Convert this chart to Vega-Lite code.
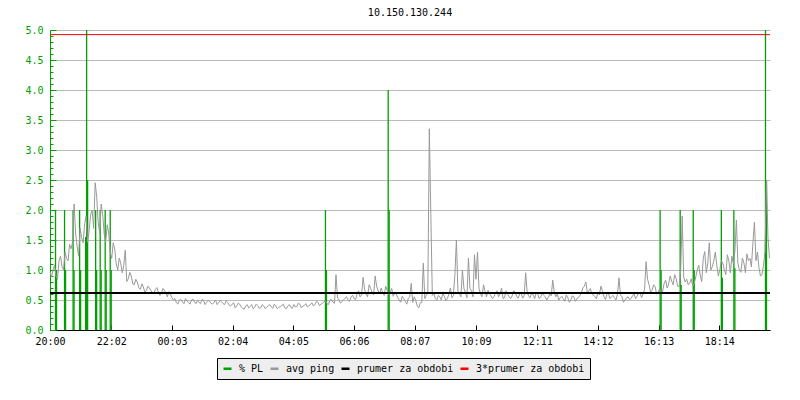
{
  "$schema": "https://vega.github.io/schema/vega-lite/v6.json",
  "width": 720,
  "height": 300,
  "autosize": {"type": "none"},
  "padding": {"left": 50, "top": 30, "right": 30, "bottom": 70},
  "background": "#ffffff",
  "title": {"text": "10.150.130.244", "font": "DejaVu Sans Mono", "fontSize": 10, "fontWeight": "normal", "color": "#000000", "anchor": "middle", "offset": 7},
  "datasets": {
    "pl": [
      {"t": 11, "pl": 2.0}, {"t": 13, "pl": 1.0},
      {"t": 29, "pl": 2.0}, {"t": 31, "pl": 1.0},
      {"t": 46, "pl": 2.0}, {"t": 48, "pl": 1.0},
      {"t": 59, "pl": 2.0}, {"t": 61, "pl": 1.0},
      {"t": 71, "pl": 1.55}, {"t": 73, "pl": 5.0}, {"t": 75, "pl": 2.5},
      {"t": 91, "pl": 2.0}, {"t": 93, "pl": 1.0},
      {"t": 100, "pl": 2.0}, {"t": 102, "pl": 1.0},
      {"t": 110, "pl": 2.0}, {"t": 112, "pl": 1.0},
      {"t": 120, "pl": 2.0}, {"t": 122, "pl": 1.0},
      {"t": 549, "pl": 2.0}, {"t": 551, "pl": 1.0},
      {"t": 674, "pl": 4.0}, {"t": 676, "pl": 2.0},
      {"t": 1216, "pl": 2.0}, {"t": 1218, "pl": 1.0},
      {"t": 1256, "pl": 2.0}, {"t": 1258, "pl": 0.75},
      {"t": 1282, "pl": 2.0}, {"t": 1284, "pl": 1.0},
      {"t": 1338, "pl": 2.0}, {"t": 1340, "pl": 0.87},
      {"t": 1363, "pl": 2.0}, {"t": 1365, "pl": 1.03},
      {"t": 1426, "pl": 5.0}, {"t": 1428, "pl": 2.5}
    ],
    "ref": [
      {"s": "prumer za obdobi", "v": 2.8},
      {"s": "3*prumer za obdobi", "v": 8.4}
    ],
    "ping": [
      {"t":0,"ping":3.26},{"t":6,"ping":3.3},{"t":12,"ping":3.17},{"t":18,"ping":3.5},{"t":24,"ping":3.37},{"t":30,"ping":3.69},{"t":36,"ping":3.5},{"t":42,"ping":3.76},{"t":48,"ping":4.73},{"t":54,"ping":3.82},
      {"t":60,"ping":4.21},{"t":66,"ping":3.89},{"t":72,"ping":4.47},{"t":78,"ping":4.15},{"t":84,"ping":4.6},{"t":90,"ping":5.19},{"t":96,"ping":4.34},{"t":102,"ping":4.73},{"t":108,"ping":4.08},{"t":114,"ping":4.28},
      {"t":120,"ping":3.69},{"t":126,"ping":3.89},{"t":132,"ping":3.43},{"t":138,"ping":3.56},{"t":144,"ping":3.24},{"t":150,"ping":3.73},{"t":156,"ping":3.11},{"t":162,"ping":3.17},{"t":168,"ping":2.98},{"t":174,"ping":3.04},
      {"t":180,"ping":2.88},{"t":186,"ping":2.94},{"t":192,"ping":2.85},{"t":198,"ping":2.91},{"t":204,"ping":2.81},{"t":210,"ping":2.88},{"t":216,"ping":2.82},{"t":222,"ping":2.78},{"t":228,"ping":2.86},{"t":234,"ping":2.72},
      {"t":240,"ping":2.78},{"t":246,"ping":2.65},{"t":252,"ping":2.59},{"t":258,"ping":2.65},{"t":264,"ping":2.61},{"t":270,"ping":2.68},{"t":276,"ping":2.6},{"t":282,"ping":2.65},{"t":288,"ping":2.61},{"t":294,"ping":2.64},
      {"t":300,"ping":2.57},{"t":306,"ping":2.65},{"t":312,"ping":2.6},{"t":318,"ping":2.62},{"t":324,"ping":2.56},{"t":330,"ping":2.65},{"t":336,"ping":2.59},{"t":342,"ping":2.61},{"t":348,"ping":2.55},{"t":354,"ping":2.6},
      {"t":360,"ping":2.52},{"t":366,"ping":2.59},{"t":372,"ping":2.52},{"t":378,"ping":2.56},{"t":384,"ping":2.47},{"t":390,"ping":2.52},{"t":396,"ping":2.48},{"t":402,"ping":2.55},{"t":408,"ping":2.49},{"t":414,"ping":2.53},
      {"t":420,"ping":2.48},{"t":426,"ping":2.52},{"t":432,"ping":2.49},{"t":438,"ping":2.55},{"t":444,"ping":2.47},{"t":450,"ping":2.52},{"t":456,"ping":2.49},{"t":462,"ping":2.53},{"t":468,"ping":2.48},{"t":474,"ping":2.52},
      {"t":480,"ping":2.49},{"t":486,"ping":2.55},{"t":492,"ping":2.51},{"t":498,"ping":2.56},{"t":504,"ping":2.52},{"t":510,"ping":2.57},{"t":516,"ping":2.53},{"t":522,"ping":2.59},{"t":528,"ping":2.55},{"t":534,"ping":2.6},
      {"t":540,"ping":2.56},{"t":546,"ping":2.61},{"t":552,"ping":2.57},{"t":558,"ping":2.65},{"t":564,"ping":2.6},{"t":570,"ping":3.2},{"t":576,"ping":2.65},{"t":582,"ping":2.62},{"t":588,"ping":2.69},{"t":594,"ping":2.65},
      {"t":600,"ping":2.72},{"t":606,"ping":2.68},{"t":612,"ping":2.78},{"t":618,"ping":2.72},{"t":624,"ping":3.14},{"t":630,"ping":2.78},{"t":636,"ping":2.98},{"t":642,"ping":2.81},{"t":648,"ping":3.17},{"t":654,"ping":2.85},
      {"t":660,"ping":2.91},{"t":666,"ping":2.75},{"t":672,"ping":2.86},{"t":678,"ping":2.81},{"t":684,"ping":2.73},{"t":690,"ping":2.78},{"t":696,"ping":2.65},{"t":702,"ping":2.73},{"t":708,"ping":2.62},{"t":714,"ping":2.68},
      {"t":720,"ping":3.01},{"t":726,"ping":2.72},{"t":732,"ping":2.52},{"t":738,"ping":2.59},{"t":744,"ping":3.45},{"t":750,"ping":2.75},{"t":756,"ping":6.36},{"t":762,"ping":2.75},{"t":768,"ping":2.68},{"t":774,"ping":2.75},
      {"t":780,"ping":2.65},{"t":786,"ping":2.73},{"t":792,"ping":2.68},{"t":798,"ping":2.91},{"t":804,"ping":2.75},{"t":810,"ping":3.95},{"t":816,"ping":2.78},{"t":822,"ping":3.3},{"t":828,"ping":2.81},{"t":834,"ping":3.56},
      {"t":840,"ping":2.85},{"t":846,"ping":3.63},{"t":852,"ping":3.69},{"t":858,"ping":2.78},{"t":864,"ping":2.98},{"t":870,"ping":2.72},{"t":876,"ping":2.78},{"t":882,"ping":2.68},{"t":888,"ping":2.81},{"t":894,"ping":2.72},
      {"t":900,"ping":2.91},{"t":906,"ping":2.7},{"t":912,"ping":2.78},{"t":918,"ping":2.68},{"t":924,"ping":2.85},{"t":930,"ping":2.73},{"t":936,"ping":2.78},{"t":942,"ping":2.69},{"t":948,"ping":3.24},{"t":954,"ping":2.73},
      {"t":960,"ping":2.81},{"t":966,"ping":2.68},{"t":972,"ping":2.78},{"t":978,"ping":2.72},{"t":984,"ping":2.75},{"t":990,"ping":2.65},{"t":996,"ping":2.78},{"t":1002,"ping":3.08},{"t":1008,"ping":2.72},{"t":1014,"ping":2.65},
      {"t":1020,"ping":2.73},{"t":1026,"ping":2.62},{"t":1032,"ping":2.7},{"t":1038,"ping":2.65},{"t":1044,"ping":2.72},{"t":1050,"ping":2.68},{"t":1056,"ping":2.75},{"t":1062,"ping":2.91},{"t":1068,"ping":3.04},{"t":1074,"ping":2.85},
      {"t":1080,"ping":2.78},{"t":1086,"ping":2.72},{"t":1092,"ping":2.81},{"t":1098,"ping":2.95},{"t":1104,"ping":2.72},{"t":1110,"ping":2.78},{"t":1116,"ping":2.68},{"t":1122,"ping":2.75},{"t":1128,"ping":2.65},{"t":1134,"ping":3.13},
      {"t":1140,"ping":2.72},{"t":1146,"ping":2.65},{"t":1152,"ping":2.72},{"t":1158,"ping":2.68},{"t":1164,"ping":2.78},{"t":1170,"ping":2.73},{"t":1176,"ping":2.81},{"t":1182,"ping":2.78},{"t":1188,"ping":3.48},{"t":1194,"ping":2.98},
      {"t":1200,"ping":2.86},{"t":1206,"ping":2.94},{"t":1212,"ping":2.81},{"t":1218,"ping":2.78},{"t":1224,"ping":3.01},{"t":1230,"ping":2.91},{"t":1236,"ping":3.17},{"t":1242,"ping":2.98},{"t":1248,"ping":3.11},{"t":1254,"ping":2.94},
      {"t":1260,"ping":4.47},{"t":1266,"ping":3.04},{"t":1272,"ping":2.98},{"t":1278,"ping":3.11},{"t":1284,"ping":3.01},{"t":1290,"ping":3.3},{"t":1296,"ping":3.17},{"t":1302,"ping":3.56},{"t":1308,"ping":3.24},{"t":1314,"ping":3.89},
      {"t":1320,"ping":3.37},{"t":1326,"ping":3.69},{"t":1332,"ping":3.17},{"t":1338,"ping":3.5},{"t":1344,"ping":3.3},{"t":1350,"ping":3.63},{"t":1356,"ping":3.24},{"t":1362,"ping":3.43},{"t":1368,"ping":4.38},{"t":1374,"ping":3.3},
      {"t":1380,"ping":3.56},{"t":1386,"ping":3.24},{"t":1392,"ping":3.5},{"t":1398,"ping":3.37},{"t":1404,"ping":4.34},{"t":1410,"ping":3.69},{"t":1416,"ping":3.17},{"t":1422,"ping":3.4},{"t":1428,"ping":5.25},{"t":1434,"ping":3.56},
      {"t":3,"ping":3.15},{"t":9,"ping":3.4},{"t":15,"ping":3.1},{"t":21,"ping":3.6},{"t":27,"ping":3.3},{"t":33,"ping":3.55},{"t":39,"ping":3.85},{"t":45,"ping":3.9},{"t":51,"ping":4.1},{"t":57,"ping":3.6},
      {"t":63,"ping":4.0},{"t":69,"ping":4.3},{"t":75,"ping":3.9},{"t":81,"ping":4.5},{"t":87,"ping":4.2},{"t":93,"ping":4.9},{"t":99,"ping":4.1},{"t":105,"ping":4.5},{"t":111,"ping":3.9},{"t":117,"ping":4.1},
      {"t":123,"ping":3.55},{"t":129,"ping":3.75},{"t":135,"ping":3.3},{"t":141,"ping":3.45},{"t":147,"ping":3.4},{"t":153,"ping":3.05},{"t":159,"ping":3.25},{"t":165,"ping":3.0},{"t":171,"ping":3.1},{"t":177,"ping":2.92},
      {"t":183,"ping":3.0},{"t":189,"ping":2.82},{"t":195,"ping":2.95},{"t":201,"ping":2.86},{"t":207,"ping":2.78},{"t":213,"ping":2.92},{"t":219,"ping":2.75},{"t":225,"ping":2.9},{"t":231,"ping":2.8},{"t":237,"ping":2.83},
      {"t":243,"ping":2.7},{"t":249,"ping":2.68},{"t":255,"ping":2.56},{"t":261,"ping":2.66},{"t":267,"ping":2.57},{"t":273,"ping":2.63},{"t":279,"ping":2.56},{"t":285,"ping":2.67},{"t":291,"ping":2.57},{"t":297,"ping":2.6},
      {"t":303,"ping":2.66},{"t":309,"ping":2.55},{"t":315,"ping":2.64},{"t":321,"ping":2.58},{"t":327,"ping":2.6},{"t":333,"ping":2.55},{"t":339,"ping":2.64},{"t":345,"ping":2.57},{"t":351,"ping":2.63},{"t":357,"ping":2.54},
      {"t":363,"ping":2.56},{"t":369,"ping":2.48},{"t":375,"ping":2.58},{"t":381,"ping":2.5},{"t":387,"ping":2.45},{"t":393,"ping":2.55},{"t":399,"ping":2.51},{"t":405,"ping":2.46},{"t":411,"ping":2.56},{"t":417,"ping":2.47},
      {"t":423,"ping":2.55},{"t":429,"ping":2.46},{"t":435,"ping":2.53},{"t":441,"ping":2.5},{"t":447,"ping":2.56},{"t":453,"ping":2.46},{"t":459,"ping":2.51},{"t":465,"ping":2.56},{"t":471,"ping":2.46},{"t":477,"ping":2.55},
      {"t":483,"ping":2.47},{"t":489,"ping":2.5},{"t":495,"ping":2.58},{"t":501,"ping":2.48},{"t":507,"ping":2.53},{"t":513,"ping":2.5},{"t":519,"ping":2.55},{"t":525,"ping":2.52},{"t":531,"ping":2.62},{"t":537,"ping":2.53},
      {"t":543,"ping":2.58},{"t":549,"ping":2.63},{"t":555,"ping":2.55},{"t":561,"ping":2.66},{"t":567,"ping":2.58},{"t":573,"ping":2.7},{"t":579,"ping":2.58},{"t":585,"ping":2.65},{"t":591,"ping":2.72},{"t":597,"ping":2.62},
      {"t":603,"ping":2.75},{"t":609,"ping":2.66},{"t":615,"ping":2.85},{"t":621,"ping":2.76},{"t":627,"ping":2.88},{"t":633,"ping":2.72},{"t":639,"ping":2.9},{"t":645,"ping":2.76},{"t":651,"ping":2.95},{"t":657,"ping":2.78},
      {"t":663,"ping":2.82},{"t":669,"ping":2.95},{"t":675,"ping":2.76},{"t":681,"ping":2.9},{"t":687,"ping":2.8},{"t":693,"ping":2.7},{"t":699,"ping":2.6},{"t":705,"ping":2.68},{"t":711,"ping":2.56},{"t":717,"ping":2.72},
      {"t":723,"ping":2.6},{"t":729,"ping":2.64},{"t":735,"ping":2.48},{"t":741,"ping":2.6},{"t":747,"ping":2.68},{"t":753,"ping":2.8},{"t":759,"ping":4.5},{"t":765,"ping":2.8},{"t":771,"ping":2.65},{"t":777,"ping":2.72},
      {"t":783,"ping":2.8},{"t":789,"ping":2.64},{"t":795,"ping":2.78},{"t":801,"ping":2.7},{"t":807,"ping":3.2},{"t":813,"ping":2.85},{"t":819,"ping":2.72},{"t":825,"ping":2.9},{"t":831,"ping":2.7},{"t":837,"ping":2.9},
      {"t":843,"ping":2.72},{"t":849,"ping":3.1},{"t":855,"ping":2.9},{"t":861,"ping":2.72},{"t":867,"ping":2.84},{"t":873,"ping":2.86},{"t":879,"ping":2.74},{"t":885,"ping":2.72},{"t":891,"ping":2.85},{"t":897,"ping":2.78},
      {"t":903,"ping":2.68},{"t":909,"ping":2.85},{"t":915,"ping":2.72},{"t":921,"ping":2.74},{"t":927,"ping":2.82},{"t":933,"ping":2.69},{"t":939,"ping":2.8},{"t":945,"ping":2.74},{"t":951,"ping":2.82},{"t":957,"ping":2.7},
      {"t":963,"ping":2.76},{"t":969,"ping":2.82},{"t":975,"ping":2.68},{"t":981,"ping":2.8},{"t":987,"ping":2.72},{"t":993,"ping":2.7},{"t":999,"ping":2.74},{"t":1005,"ping":2.82},{"t":1011,"ping":2.78},{"t":1017,"ping":2.7},
      {"t":1023,"ping":2.68},{"t":1029,"ping":2.76},{"t":1035,"ping":2.6},{"t":1041,"ping":2.74},{"t":1047,"ping":2.62},{"t":1053,"ping":2.7},{"t":1059,"ping":2.8},{"t":1065,"ping":2.95},{"t":1071,"ping":2.8},{"t":1077,"ping":2.9},
      {"t":1083,"ping":2.76},{"t":1089,"ping":2.68},{"t":1095,"ping":2.76},{"t":1101,"ping":2.85},{"t":1107,"ping":2.66},{"t":1113,"ping":2.8},{"t":1119,"ping":2.72},{"t":1125,"ping":2.7},{"t":1131,"ping":2.78},{"t":1137,"ping":2.76},
      {"t":1143,"ping":2.6},{"t":1149,"ping":2.7},{"t":1155,"ping":2.66},{"t":1161,"ping":2.74},{"t":1167,"ping":2.68},{"t":1173,"ping":2.8},{"t":1179,"ping":2.7},{"t":1185,"ping":2.88},{"t":1191,"ping":3.1},{"t":1197,"ping":2.82},
      {"t":1203,"ping":2.98},{"t":1209,"ping":2.78},{"t":1215,"ping":2.9},{"t":1221,"ping":2.84},{"t":1227,"ping":3.08},{"t":1233,"ping":3.0},{"t":1239,"ping":3.06},{"t":1245,"ping":3.2},{"t":1251,"ping":2.95},{"t":1257,"ping":3.3},
      {"t":1263,"ping":3.15},{"t":1269,"ping":3.1},{"t":1275,"ping":3.02},{"t":1281,"ping":2.95},{"t":1287,"ping":3.15},{"t":1293,"ping":3.4},{"t":1299,"ping":3.05},{"t":1305,"ping":3.7},{"t":1311,"ping":3.45},{"t":1317,"ping":3.3},
      {"t":1323,"ping":3.5},{"t":1329,"ping":3.4},{"t":1335,"ping":3.3},{"t":1341,"ping":3.45},{"t":1347,"ping":3.2},{"t":1353,"ping":3.5},{"t":1359,"ping":3.6},{"t":1365,"ping":3.7},{"t":1371,"ping":3.45},{"t":1377,"ping":3.25},
      {"t":1383,"ping":3.45},{"t":1389,"ping":3.65},{"t":1395,"ping":3.55},{"t":1401,"ping":3.9},{"t":1407,"ping":3.5},{"t":1413,"ping":3.35},{"t":1419,"ping":3.2},{"t":1425,"ping":3.7},{"t":1431,"ping":4.0}
    ]
  },
  "layer": [
    {
      "data": {"name": "pl"},
      "mark": {"type": "rule", "strokeWidth": 1.3},
      "encoding": {
        "x": {"field": "t", "type": "quantitative", "scale": {"domain": [0, 1435], "nice": false, "zero": false},
          "axis": {"title": null, "values": [0,122,243,364,485,606,727,849,971,1092,1213,1334], "labelExpr": "utcFormat(datum.value*60000+72000000, '%H:%M')"}},
        "y": {"field": "pl", "type": "quantitative", "scale": {"domain": [0, 5], "nice": false, "zero": true},
          "axis": {"orient": "left", "title": null,
            "values": [0,0.1,0.2,0.3,0.4,0.5,0.6,0.7,0.8,0.9,1,1.1,1.2,1.3,1.4,1.5,1.6,1.7,1.8,1.9,2,2.1,2.2,2.3,2.4,2.5,2.6,2.7,2.8,2.9,3,3.1,3.2,3.3,3.4,3.5,3.6,3.7,3.8,3.9,4,4.1,4.2,4.3,4.4,4.5,4.6,4.7,4.8,4.9,5],
            "labelExpr": "abs(datum.value*2-round(datum.value*2))<0.001 ? format(datum.value, '.1f') : ''",
            "labelColor": "#00a000", "domainColor": "#00a000", "tickColor": "#00a000",
            "grid": true, "gridColor": "#bbbbbb",
            "gridOpacity": {"condition": {"test": "abs(datum.value*2-round(datum.value*2))<0.001", "value": 1}, "value": 0},
            "tickSize": {"condition": {"test": "abs(datum.value*2-round(datum.value*2))<0.001", "value": -6}, "value": -3},
            "labelPadding": 13, "labelOverlap": false, "labelBound": false, "labelFlush": false}},
        "y2": {"datum": 0},
        "color": {"datum": "% PL", "type": "nominal", "title": null,
          "scale": {"domain": ["% PL", "avg ping", "prumer za obdobi", "3*prumer za obdobi"], "range": ["#00a000", "#999999", "#000000", "#ff0000"]},
          "legend": {"title": null}}
      }
    },
    {
      "layer": [
        {
          "data": {"name": "ping"},
          "mark": {"type": "line", "strokeWidth": 1},
          "encoding": {
            "x": {"field": "t", "type": "quantitative", "title": null},
            "y": {"field": "ping", "type": "quantitative", "scale": {"domain": [2, 8.5], "nice": false, "zero": false},
              "axis": {"orient": "right", "title": null,
                "values": [2,2.1,2.2,2.3,2.4,2.5,2.6,2.7,2.8,2.9,3,3.1,3.2,3.3,3.4,3.5,3.6,3.7,3.8,3.9,4,4.1,4.2,4.3,4.4,4.5,4.6,4.7,4.8,4.9,5,5.1,5.2,5.3,5.4,5.5,5.6,5.7,5.8,5.9,6,6.1,6.2,6.3,6.4,6.5,6.6,6.7,6.8,6.9,7,7.1,7.2,7.3,7.4,7.5,7.6,7.7,7.8,7.9,8,8.1,8.2,8.3,8.4,8.5],
                "labelExpr": "abs(datum.value*2-round(datum.value*2))<0.001 ? format(datum.value, '.1f') : ''",
                "labelColor": "#999999", "domainColor": "#999999", "tickColor": "#999999",
                "grid": false, "tickSize": -3, "labelPadding": 9, "labelOverlap": false, "labelBound": false, "labelFlush": false}},
            "color": {"datum": "avg ping", "type": "nominal", "title": null}
          }
        },
        {
          "data": {"name": "ref"},
          "mark": {"type": "rule"},
          "encoding": {
            "y": {"field": "v", "type": "quantitative", "axis": null},
            "color": {"field": "s", "type": "nominal", "title": null, "legend": {"title": null}},
            "strokeWidth": {"field": "s", "type": "ordinal", "scale": {"domain": ["prumer za obdobi", "3*prumer za obdobi"], "range": [2, 1]}, "legend": null}
          }
        }
      ]
    }
  ],
  "resolve": {"scale": {"y": "independent"}},
  "config": {
    "view": {"stroke": null},
    "axis": {"labelFont": "DejaVu Sans Mono", "labelFontSize": 10, "domainWidth": 1, "tickWidth": 1},
    "axisX": {"grid": false, "tickSize": -5, "tickColor": "#000000", "domainColor": "#000000", "labelColor": "#000000", "labelPadding": 11, "labelFlush": false, "labelOverlap": false},
    "legend": {"orient": "none", "legendX": 167, "legendY": 328, "direction": "horizontal",
      "fillColor": "#eeeeee", "strokeColor": "#000000", "padding": 5,
      "labelFont": "DejaVu Sans Mono", "labelFontSize": 10, "labelColor": "#000000",
      "symbolType": "stroke", "symbolStrokeWidth": 2.5, "symbolSize": 64, "labelOffset": 6, "columnPadding": 1}
  }
}
